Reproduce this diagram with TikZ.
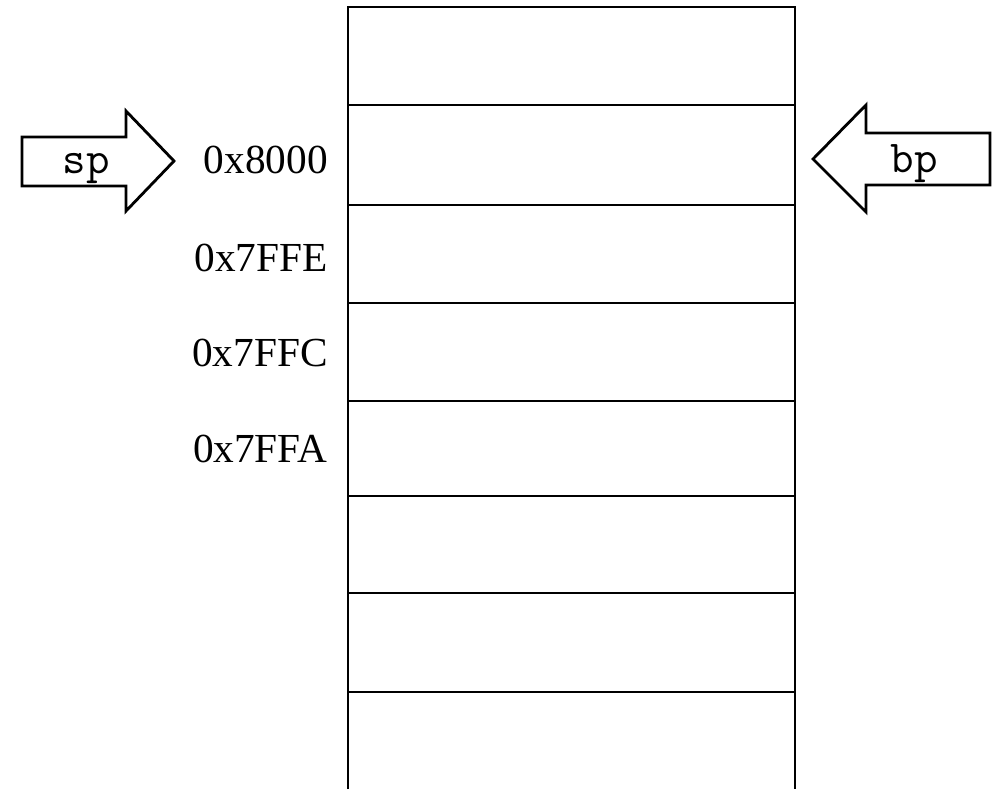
\documentclass[tikz,border=0pt]{standalone}
\usepackage{fontspec}
\setmainfont{Liberation Serif}
\usetikzlibrary{positioning}

\begin{document}
\begin{tikzpicture}[x=0.02cm, y=-0.02cm,
  cellline/.style={line width=1.6pt},
  addr/.style={font=\fontsize{23.5}{28}\selectfont, anchor=east, inner sep=0pt},
  ptr/.style={draw, line width=1.6pt, line join=miter},
  reg/.style={font=\ttfamily\fontsize{26}{30}\selectfont, anchor=base, inner sep=0pt}]
\useasboundingbox (0,0) rectangle (1000,789);
% stack, open at the bottom
\draw[cellline] (348,789) -- (348,7) -- (795,7) -- (795,789);
\foreach \y in {105,205,303,401,496,593,692}
  \draw[cellline] (348,\y) -- (795,\y);
% addresses
\node[addr] (a8000) at (328,160) {0x8000};
\node[addr] (a7FFE) at (328,258) {0x7FFE};
\node[addr] (a7FFC) at (328,353) {0x7FFC};
\node[addr] (a7FFA) at (328,449) {0x7FFA};
% stack pointer
\draw[ptr] (22,137) -- (126,137) -- (126,111) -- (174,161) -- (126,211) -- (126,186) -- (22,186) -- cycle;
\node[reg] (sp) at (86,173) {sp};
% base pointer
\draw[ptr] (990,133) -- (866,133) -- (866,105) -- (813,159) -- (866,212) -- (866,185) -- (990,185) -- cycle;
\node[reg] (bp) at (914,172) {bp};
\end{tikzpicture}
\end{document}
